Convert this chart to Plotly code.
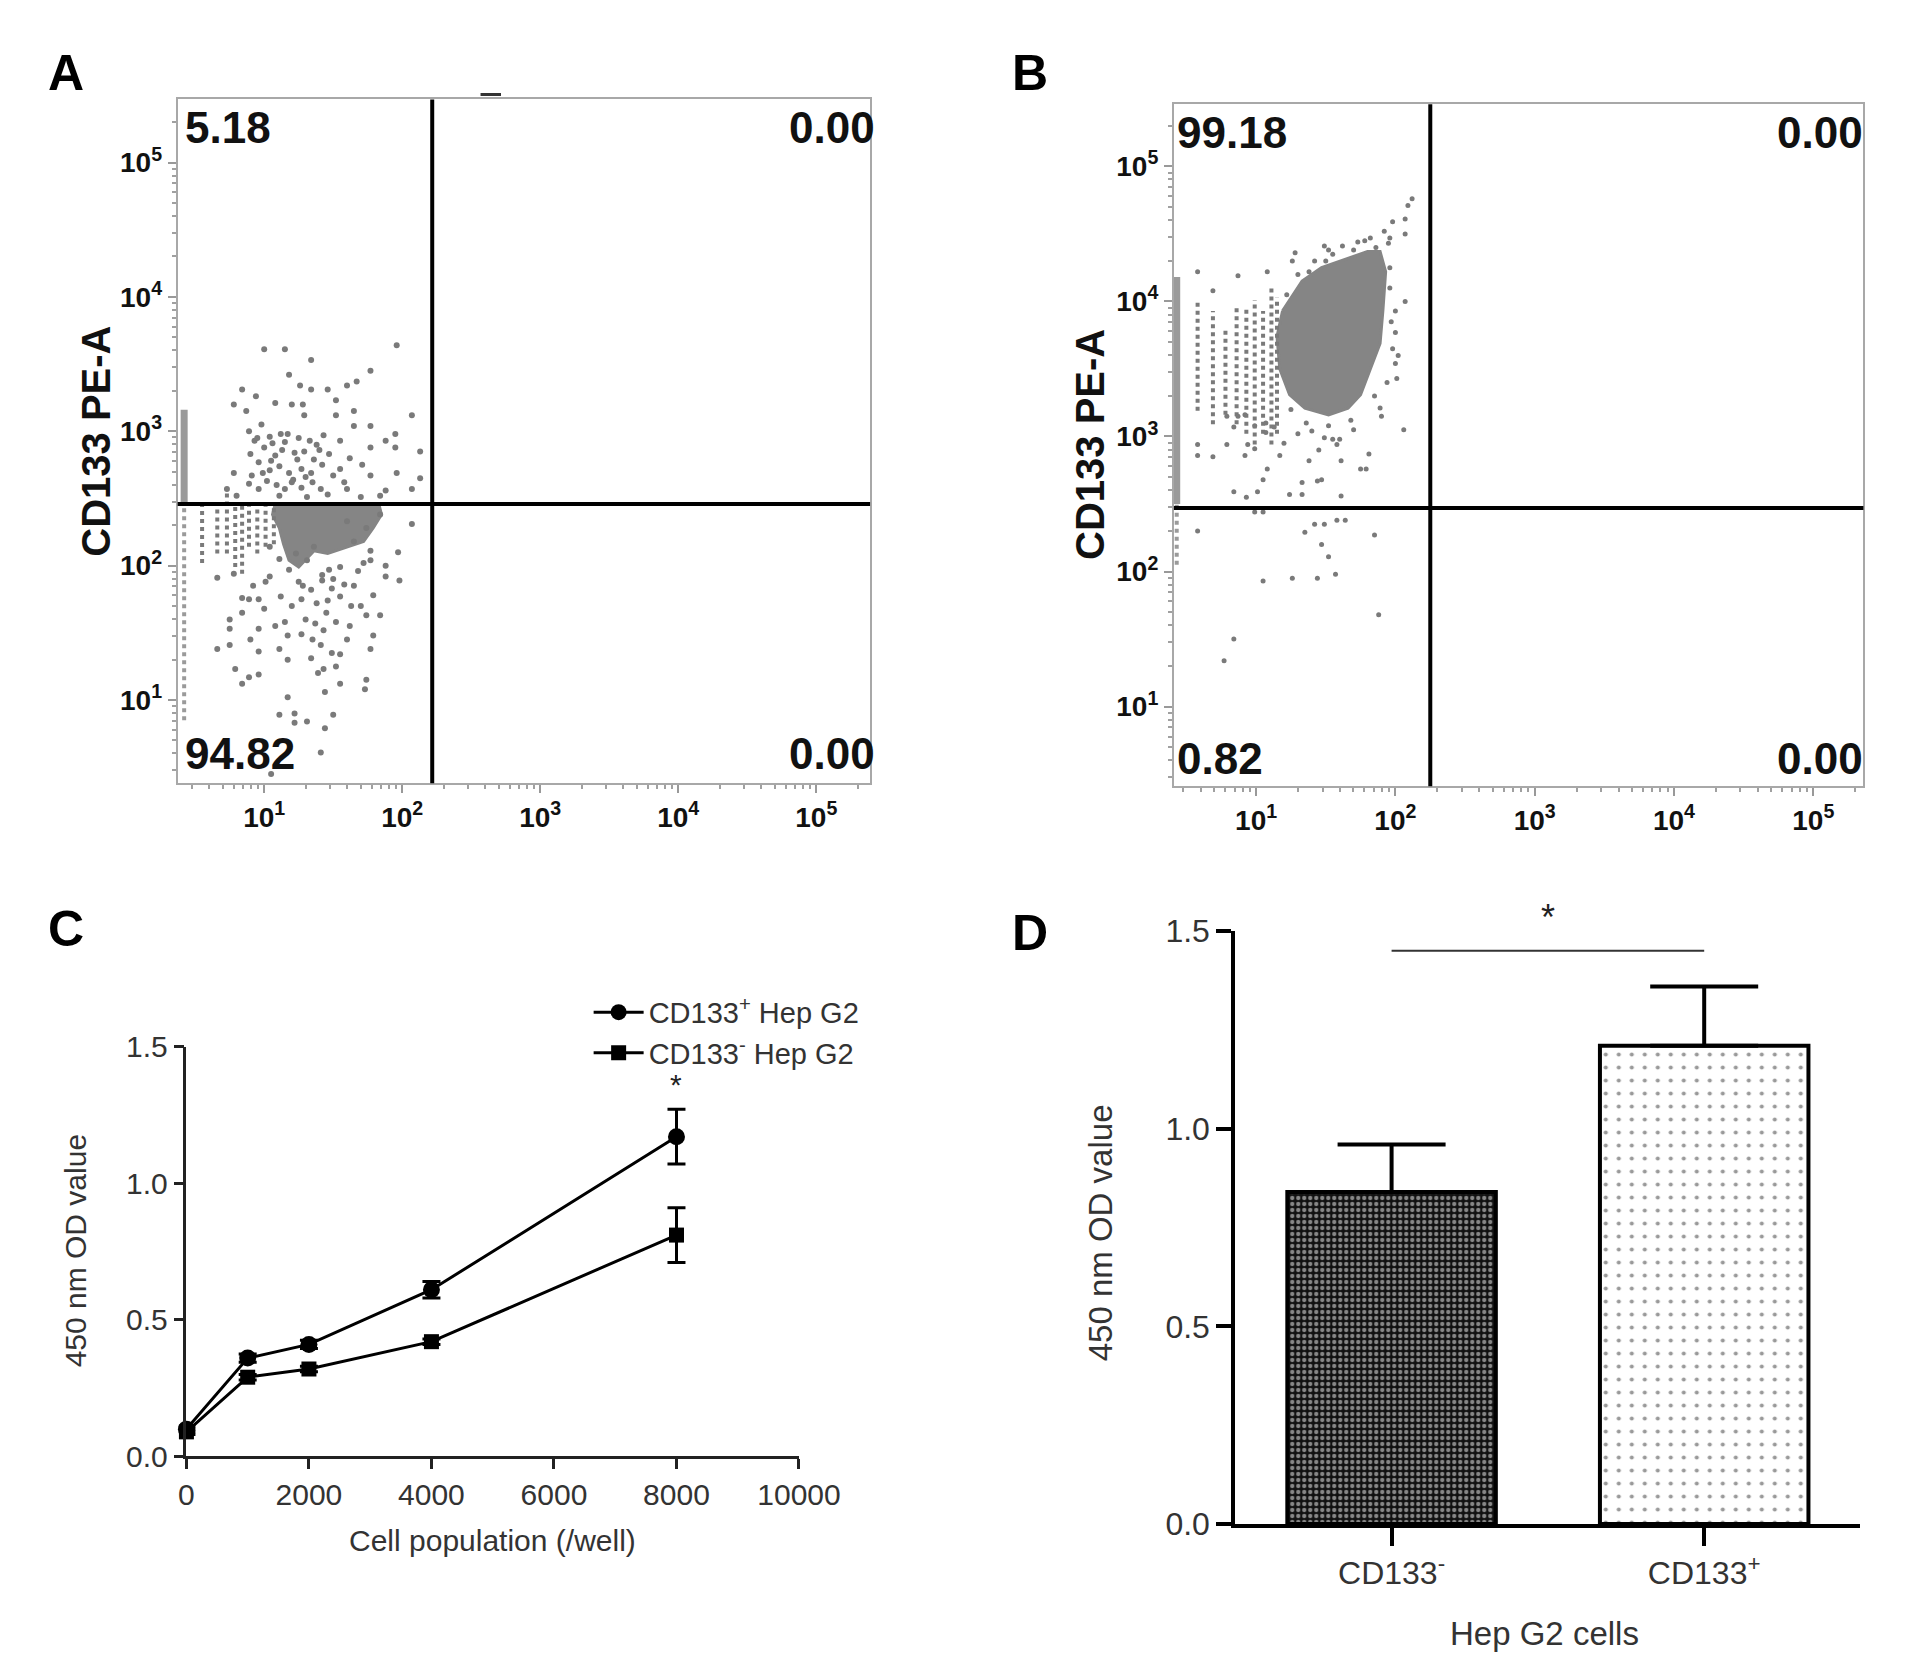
import numpy as np
import plotly.graph_objects as go

W, H = 1913, 1669
DOT = "#7a7a7a"
FLOW_FONT = "Liberation Sans"

# ---- panel A : CD133 PE-A flow plot (values in log10 decades) ----
a_gate_x, a_gate_y = 165, 288
a_dots_lx = [1.00, 1.15, 1.34, 1.96, 1.77, 1.18, 1.67, 1.60, 1.26, 1.34, 1.46, 0.84, 0.94, 1.52, 1.08,
             0.78, 1.20, 1.28, 0.87, 1.65, 2.07, 1.52, 1.29, 1.77, 1.65, 1.95, 1.88, 2.13, 1.95, 1.77,
             1.55, 1.43, 0.89, 1.04, 1.15, 1.22, 1.29, 1.36, 1.42, 0.96, 1.04, 1.11, 1.18, 0.91, 1.34,
             1.50, 0.78, 1.60, 1.77, 1.96, 2.07, 2.13, 1.88, 1.15, 1.27, 1.41, 0.96, 0.89, 0.73, 0.80,
             1.11, 1.31, 1.46, 1.70, 1.84, 0.93, 1.00, 1.08, 1.25, 1.38, 1.47, 1.02, 1.20, 1.30, 1.55,
             1.62, 1.12, 0.98, 0.90, 0.95, 1.06, 1.13, 1.24, 1.33, 1.40, 1.05, 1.17, 1.27, 0.99, 1.09,
             1.21, 1.35, 1.58, 1.71,
             2.07, 1.97, 1.98, 1.88, 1.88, 1.77, 1.72, 1.65, 1.79, 1.84, 1.74, 1.63, 1.55, 1.49, 1.42,
             1.34, 1.27, 1.20, 1.12, 1.04, 0.96, 0.89, 0.84, 0.78, 0.66, 0.75, 0.75, 0.66, 0.75, 0.96,
             0.96, 0.84, 1.11, 1.17, 1.27, 1.43, 1.34, 1.41, 1.49, 1.55, 1.77, 1.79, 1.17, 1.39, 1.43,
             1.55, 1.44, 1.74, 1.73, 0.79, 0.84, 0.89, 0.96, 1.17, 1.11, 1.22, 1.22, 1.31, 1.50, 1.44,
             1.41, 1.05, 1.18, 1.31, 1.47, 1.55, 1.11, 1.04, 1.23, 1.36, 1.65, 1.74, 1.77, 1.84, 1.60,
             1.30, 1.45, 1.38, 1.52, 1.60, 1.25, 1.00, 1.08, 0.90, 1.35, 1.42, 1.50, 1.58, 1.68, 1.28,
             1.46, 1.52, 1.37, 1.62, 1.70, 1.15, 0.92, 1.01]
a_dots_ly = [3.61, 3.61, 3.53, 3.64, 3.45, 3.42, 3.37, 3.34, 3.34, 3.31, 3.31, 3.31, 3.26, 3.23, 3.21,
             3.20, 3.20, 3.20, 3.15, 3.15, 3.12, 3.12, 3.12, 3.04, 3.04, 2.98, 2.93, 2.85, 2.88, 2.88,
             2.93, 2.97, 3.00, 2.96, 2.92, 2.84, 2.85, 2.79, 2.75, 2.77, 2.71, 2.74, 2.69, 2.67, 2.69,
             2.67, 2.69, 2.57, 2.67, 2.69, 2.57, 2.65, 2.56, 2.57, 2.58, 2.57, 2.57, 2.61, 2.57, 2.52,
             2.52, 2.51, 2.53, 2.51, 2.52, 2.93, 2.88, 2.82, 2.95, 2.90, 2.83, 2.63, 2.62, 2.66, 2.72,
             2.80, 2.98, 3.05, 2.83, 2.95, 2.91, 2.86, 2.79, 2.93, 2.86, 2.78, 2.98, 2.72, 2.69, 2.60,
             2.64, 2.62, 2.62, 2.75,
             2.31, 2.10, 1.89, 2.00, 1.92, 2.04, 2.02, 1.85, 1.78, 1.63, 1.63, 1.70, 1.77, 1.83, 1.89,
             1.82, 1.75, 1.70, 1.77, 1.92, 1.75, 1.75, 1.76, 1.94, 1.91, 1.60, 1.53, 1.38, 1.41, 1.53,
             1.36, 1.65, 1.38, 1.48, 1.49, 1.52, 1.31, 1.41, 1.35, 1.34, 1.38, 1.48, 1.30, 1.20, 1.23,
             1.12, 1.06, 1.15, 1.08, 1.23, 1.12, 1.17, 1.19, 1.02, 0.89, 0.90, 0.83, 0.84, 0.89, 0.79,
             0.61, 0.45, 1.97, 2.04, 1.97, 1.99, 2.05, 2.14, 2.09, 2.14, 2.18, 2.28, 2.11, 2.38, 2.33,
             1.60, 1.65, 1.72, 1.58, 1.45, 1.88, 1.68, 1.55, 1.45, 1.45, 1.93, 1.90, 1.86, 1.96, 1.85,
             1.74, 1.25, 1.57, 1.55, 1.70, 1.58, 1.85, 1.88]
a_core_lx = [1.08, 1.83, 1.85, 1.79, 1.72, 1.60, 1.46, 1.36, 1.25, 1.18, 1.14, 1.11, 1.06, 1.08]
a_core_ly = [2.46, 2.46, 2.38, 2.28, 2.18, 2.14, 2.09, 2.11, 1.99, 2.04, 2.16, 2.28, 2.38, 2.46]
a_col_lx = [0.55, 0.66, 0.73, 0.79, 0.84, 0.89, 0.95, 1.01, 1.07]
a_col_top = [2.46, 2.46, 2.56, 2.46, 2.46, 2.46, 2.46, 2.46, 2.46]
a_col_bot = [2.02, 2.09, 2.09, 1.99, 1.94, 2.14, 2.09, 2.14, 2.16]
a_edge_lx = 0.42
a_edge_dense = [2.46, 3.16]
a_edge_sparse = [0.85, 2.46]
a_quadrants = ["5.18", "0.00", "94.82", "0.00"]

# ---- panel B ----
b_gate_x, b_gate_y = 178, 295
b_dots_lx = [2.12, 2.09, 1.98, 2.07, 1.96, 2.07, 1.82, 1.73, 1.49, 1.52, 1.28, 1.26, 1.50, 1.38, 1.08,
             0.58, 0.87, 0.69, 1.96, 1.96, 2.00, 2.07, 2.00, 1.98, 2.00, 1.94, 2.01, 1.89, 2.06, 1.81,
             1.75, 1.79, 1.61, 1.58, 1.49, 1.45, 1.38, 1.47, 1.44, 1.33, 1.33, 1.24, 1.61, 1.17, 1.08,
             1.05, 1.01, 0.93, 0.84, 0.94, 0.99, 0.92, 0.79, 0.69, 0.58, 0.58, 0.84, 0.79, 0.87, 0.92,
             0.99, 1.07, 1.13, 1.07, 1.95, 1.92, 1.86, 1.78, 1.70, 1.62, 1.55, 1.42, 1.30, 1.22, 1.25,
             1.36, 1.52, 1.68, 1.85, 1.97, 2.02, 1.90, 1.60, 1.40,
             0.58, 0.99, 1.05, 1.35, 1.42, 1.49, 1.58, 1.64, 1.85, 1.47, 1.52, 1.57, 1.44, 1.26, 1.05,
             1.88, 0.84, 0.77, 1.70, 1.55, 1.30, 1.20]
b_dots_ly = [4.76, 4.71, 4.59, 4.61, 4.47, 4.50, 4.47, 4.44, 4.41, 4.38, 4.36, 4.30, 4.30, 4.22, 4.22,
             4.22, 4.19, 4.08, 4.25, 4.10, 3.93, 4.00, 3.77, 3.65, 3.54, 3.40, 3.43, 3.21, 3.05, 2.87,
             2.76, 2.76, 2.82, 2.94, 2.99, 2.90, 2.82, 2.68, 2.67, 2.66, 2.57, 2.57, 2.56, 2.86, 2.76,
             2.68, 2.59, 2.55, 2.59, 2.94, 2.91, 2.86, 2.94, 2.85, 2.94, 2.86, 3.07, 3.15, 3.15, 3.16,
             3.08, 3.03, 3.07, 3.10, 4.43, 4.52, 4.40, 4.45, 4.38, 4.41, 4.35, 4.30, 4.20, 4.05, 3.20,
             3.10, 3.08, 3.12, 3.30, 3.85, 3.60, 3.15, 2.98, 3.04,
             2.30, 2.44, 2.44, 2.29, 2.35, 2.35, 2.38, 2.38, 2.27, 2.20, 2.11, 1.98, 1.95, 1.95, 1.93,
             1.68, 1.50, 1.34, 3.05, 2.98, 3.02, 2.95]
b_core_lx = [1.19, 1.33, 1.47, 1.66, 1.80, 1.89, 1.93, 1.91, 1.89, 1.82, 1.75, 1.66, 1.52, 1.35, 1.24,
             1.17, 1.15, 1.19]
b_core_ly = [3.93, 4.15, 4.25, 4.32, 4.37, 4.37, 4.22, 3.93, 3.69, 3.50, 3.31, 3.21, 3.16, 3.21, 3.31,
             3.50, 3.74, 3.93]
b_col_lx = [0.58, 0.69, 0.78, 0.86, 0.93, 0.99, 1.05, 1.11, 1.15]
b_col_top = [4.01, 3.93, 3.81, 3.98, 3.96, 4.01, 3.93, 4.10, 4.03]
b_col_bot = [3.19, 3.09, 3.16, 3.09, 3.02, 2.94, 3.02, 2.94, 3.02]
b_edge_lx = 0.43
b_edge_dense = [2.50, 4.18]
b_edge_sparse = [2.05, 2.50]
b_quadrants = ["99.18", "0.00", "0.82", "0.00"]

# ---- panel C : OD vs cell number ----
cells = [0, 1000, 2000, 4000, 8000]
od_pos = [0.10, 0.36, 0.41, 0.61, 1.17]
od_pos_err = [0.01, 0.015, 0.015, 0.03, 0.10]
od_neg = [0.09, 0.29, 0.32, 0.42, 0.81]
od_neg_err = [0.01, 0.01, 0.01, 0.01, 0.10]

# ---- panel D : bars ----
d_groups = ["CD133<sup>-</sup>", "CD133<sup>+</sup>"]
d_od = [0.84, 1.21]
d_err = [0.12, 0.15]
d_sig_y = 1.45

decade_vals = [10, 100, 1000, 10000, 100000]
decade_text = ["<b>10<sup>%d</sup></b>" % k for k in range(1, 6)]


def px_x(p):
    return p / W


def px_y(p):
    return 1 - p / H


fig = go.Figure()


def flow_panel(n, dots_lx, dots_ly, core_lx, core_ly, col_lx, col_top, col_bot,
               edge_lx, edge_dense, edge_sparse, dot_size):
    xa, ya = "x%d" % n, "y%d" % n
    p = lambda v: np.power(10.0, np.asarray(v, dtype=float))
    fig.add_trace(go.Scatter(x=p(core_lx), y=p(core_ly), xaxis=xa, yaxis=ya, mode="lines",
                             fill="toself", fillcolor="#858585", line=dict(color="#858585", width=3),
                             showlegend=False, hoverinfo="skip"))
    for cx, ct, cb in zip(col_lx, col_top, col_bot):
        fig.add_trace(go.Scatter(x=p([cx, cx]), y=p([cb, ct]), xaxis=xa, yaxis=ya, mode="lines",
                                 line=dict(color=DOT, width=4, dash="dot"),
                                 showlegend=False, hoverinfo="skip"))
    fig.add_trace(go.Scatter(x=p([edge_lx, edge_lx]), y=p(edge_dense), xaxis=xa, yaxis=ya,
                             mode="lines", line=dict(color="#9a9a9a", width=7),
                             showlegend=False, hoverinfo="skip"))
    fig.add_trace(go.Scatter(x=p([edge_lx, edge_lx]), y=p(edge_sparse), xaxis=xa, yaxis=ya,
                             mode="lines", line=dict(color="#9a9a9a", width=4, dash="dot"),
                             showlegend=False, hoverinfo="skip"))
    fig.add_trace(go.Scatter(x=p(dots_lx), y=p(dots_ly), xaxis=xa, yaxis=ya, mode="markers",
                             marker=dict(color=DOT, size=dot_size), showlegend=False,
                             hoverinfo="skip"))


flow_panel(1, a_dots_lx, a_dots_ly, a_core_lx, a_core_ly, a_col_lx, a_col_top, a_col_bot,
           a_edge_lx, a_edge_dense, a_edge_sparse, 6)
flow_panel(2, b_dots_lx, b_dots_ly, b_core_lx, b_core_ly, b_col_lx, b_col_top, b_col_bot,
           b_edge_lx, b_edge_dense, b_edge_sparse, 5)

# panel C lines
fig.add_trace(go.Scatter(x=cells, y=od_pos, xaxis="x3", yaxis="y3", mode="lines+markers",
                         name="CD133<sup>+</sup> Hep G2", cliponaxis=False,
                         line=dict(color="black", width=3),
                         marker=dict(symbol="circle", size=17, color="black"),
                         error_y=dict(type="data", array=od_pos_err, thickness=3, width=9,
                                      color="black")))
fig.add_trace(go.Scatter(x=cells, y=od_neg, xaxis="x3", yaxis="y3", mode="lines+markers",
                         name="CD133<sup>-</sup> Hep G2", cliponaxis=False,
                         line=dict(color="black", width=3),
                         marker=dict(symbol="square", size=15, color="black"),
                         error_y=dict(type="data", array=od_neg_err, thickness=3, width=9,
                                      color="black")))

# panel D bars
fig.add_trace(go.Bar(x=[0], y=[d_od[0]], xaxis="x4", yaxis="y4", width=0.667, showlegend=False,
                     marker=dict(color="#111111", line=dict(color="black", width=4),
                                 pattern=dict(shape=".", fgcolor="white", bgcolor="#111111",
                                              size=6, solidity=0.4)),
                     error_y=dict(type="data", symmetric=False, array=[d_err[0]], arrayminus=[0],
                                  thickness=4, width=54, color="black")))
fig.add_trace(go.Bar(x=[1], y=[d_od[1]], xaxis="x4", yaxis="y4", width=0.667, showlegend=False,
                     marker=dict(color="white", line=dict(color="black", width=4),
                                 pattern=dict(shape=".", fgcolor="#333333", bgcolor="white",
                                              size=13, solidity=0.08)),
                     error_y=dict(type="data", symmetric=False, array=[d_err[1]], arrayminus=[0],
                                  thickness=4, width=54, color="black")))
fig.add_trace(go.Scatter(x=[0, 1], y=[d_sig_y, d_sig_y], xaxis="x4", yaxis="y4", mode="lines",
                         line=dict(color="#333333", width=2), showlegend=False, hoverinfo="skip"))

flow_x = dict(type="log", showgrid=False, zeroline=False, showline=True, mirror=True,
              linecolor="#a8a8a8", linewidth=2, ticks="outside", ticklen=8, tickwidth=2,
              tickcolor="#999999", tickmode="array", tickvals=decade_vals, ticktext=decade_text,
              tickfont=dict(family=FLOW_FONT, size=28, color="#111111"),
              minor=dict(ticks="outside", ticklen=4, tickcolor="#a0a0a0", dtick="D1", showgrid=False))
flow_y = dict(flow_x)

c_axis = dict(showgrid=False, zeroline=False, showline=True, linecolor="#222222", linewidth=2.5,
              ticks="outside", ticklen=10, tickwidth=2.5, tickcolor="#222222",
              tickfont=dict(family="Liberation Sans", size=30, color="#333333"))
d_axis = dict(showgrid=False, zeroline=False, showline=True, linecolor="black", linewidth=4,
              ticks="outside", tickwidth=4, tickcolor="black",
              tickfont=dict(family="Liberation Sans", size=32, color="#333333"))

fig.update_layout(
    width=W, height=H, margin=dict(l=0, r=0, t=0, b=0),
    paper_bgcolor="white", plot_bgcolor="white",
    xaxis=dict(flow_x, domain=[px_x(166), px_x(877)], range=[0.373, 5.39], anchor="y"),
    yaxis=dict(flow_y, domain=[px_y(774), px_y(75)], range=[0.38, 5.47], anchor="x"),
    xaxis2=dict(flow_x, domain=[px_x(1189), px_x(1897)], range=[0.41, 5.36], anchor="y2"),
    yaxis2=dict(flow_y, domain=[px_y(777), px_y(80)], range=[0.41, 5.46], anchor="x2"),
    xaxis3=dict(c_axis, domain=[px_x(175), px_x(804)], range=[0, 10000], dtick=2000,
                tickformat="d", anchor="y3"),
    yaxis3=dict(c_axis, domain=[px_y(1462), px_y(1043)], range=[0, 1.5], dtick=0.5,
                tickformat=".1f", anchor="x3"),
    xaxis4=dict(d_axis, domain=[px_x(1252), px_x(1894)], range=[-0.5, 1.5], ticklen=18,
                tickmode="array", tickvals=[0, 1], ticktext=d_groups, anchor="y4"),
    yaxis4=dict(d_axis, domain=[px_y(1531), px_y(925)], range=[0, 1.5], dtick=0.5, ticklen=15,
                tickformat=".1f", anchor="x4"),
    legend=dict(x=px_x(588), y=px_y(982), xanchor="left", yanchor="top",
                font=dict(family="Liberation Sans", size=29, color="#333333"),
                bgcolor="rgba(0,0,0,0)", tracegroupgap=0, itemwidth=50),
)

for i, (a, b) in enumerate([(a_gate_x, a_gate_y), (b_gate_x, b_gate_y)], start=1):
    xa, ya = "x%d" % i if i > 1 else "x", "y%d" % i if i > 1 else "y"
    fig.add_shape(type="line", xref=xa, yref=ya + " domain", x0=a, x1=a, y0=0, y1=1,
                  line=dict(color="black", width=4))
    fig.add_shape(type="line", xref=xa + " domain", yref=ya, x0=0, x1=1, y0=b, y1=b,
                  line=dict(color="black", width=4))

# stray tick mark above panel A
fig.add_shape(type="line", xref="paper", yref="paper", x0=px_x(477), x1=px_x(498),
              y0=px_y(70), y1=px_y(70), line=dict(color="#333333", width=3))

ann = []


def label(text, x, y, size, xanchor="center", angle=0, bold=False, family="Liberation Sans",
          color="#111111"):
    ann.append(dict(text="<b>%s</b>" % text if bold else text, x=px_x(x), y=px_y(y),
                    xref="paper", yref="paper", xanchor=xanchor, yanchor="middle",
                    showarrow=False, textangle=angle,
                    font=dict(family=family, size=size, color=color)))


for t, x, y in [("A", 51, 48), ("B", 1041, 48), ("C", 51, 923), ("D", 1041, 927)]:
    label(t, x, y, 50, bold=True, color="black")

# quadrant percentages
for (tl, tr, bl, br), (left, right, ytop, ybot) in [
        (a_quadrants, (171, 884, 104, 744)), (b_quadrants, (1190, 1899, 109, 749))]:
    label(tl, left, ytop, 44, "left", bold=True, family=FLOW_FONT)
    label(tr, right, ytop, 44, "right", bold=True, family=FLOW_FONT)
    label(bl, left, ybot, 44, "left", bold=True, family=FLOW_FONT)
    label(br, right, ybot, 44, "right", bold=True, family=FLOW_FONT)

label("CD133 PE-A", 82, 424, 40, angle=-90, bold=True, family=FLOW_FONT)
label("CD133 PE-A", 1103, 428, 40, angle=-90, bold=True, family=FLOW_FONT)

label("450 nm OD value", 62, 1252, 30, angle=-90, color="#333333")
label("Cell population (/well)", 489, 1548, 30, color="#333333")
label("450 nm OD value", 1113, 1233, 33, angle=-90, color="#333333")
label("Hep G2 cells", 1570, 1643, 33, color="#333333")

ann.append(dict(text="*", x=cells[-1], y=1.36, xref="x3", yref="y3", showarrow=False,
                font=dict(family="Liberation Sans", size=30, color="#222222")))
ann.append(dict(text="*", x=0.5, y=1.06, xref="x4", yref="y4 domain", showarrow=False,
                font=dict(family="Liberation Sans", size=36, color="#222222")))

fig.update_layout(annotations=ann)
fig.write_html("out.html")
